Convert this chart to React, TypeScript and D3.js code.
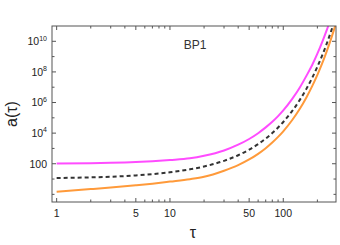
import React from "react";
import * as d3 from "d3";

const tau = [1, 2, 3, 5, 7, 10, 15, 20, 30, 40, 50, 60, 70, 80, 90, 100, 120, 140, 160, 180, 200, 220, 240, 260, 280, 300];
const aMagenta = [104, 108, 115, 130, 147, 175, 226, 330, 733, 1750, 4140, 9900, 2.37e4, 5.5e4, 1.3e5, 3.06e5, 1.73e6, 9.6e6, 5.5e7, 2.83e8, 1.55e9, 8.5e9, 4.65e10, 2.43e11, 1.37e12, 7.3e12];
const aDashed = [11.6, 12.9, 14.2, 17.2, 20.8, 27.5, 43, 66, 155, 360, 835, 1920, 4400, 1.01e4, 2.33e4, 5.35e4, 2.82e5, 1.49e6, 7.8e6, 4.1e7, 2.17e8, 1.14e9, 6.0e9, 3.2e10, 1.67e11, 8.8e11];
const aOrange = [1.48, 2.2, 2.8, 3.9, 5.0, 6.8, 9.8, 14, 35, 81, 190, 443, 1040, 2430, 5670, 1.32e4, 7.2e4, 3.9e5, 2.15e6, 1.17e7, 6.4e7, 3.47e8, 1.9e9, 1.03e10, 5.6e10, 3.1e11];

const xMajorTicks = [1, 5, 10, 50, 100];
const xMinorTicks = [2, 3, 4, 6, 7, 8, 9, 20, 30, 40, 60, 70, 80, 90, 200];
const yMajorExp = [2, 4, 6, 8, 10];
const yMinorExp = [0, 1, 3, 5, 7, 9];

const W = 340, H = 245;
const L = 52, R = 336, T = 26, B = 202;
const FONT = "'Liberation Sans', Arial, sans-serif";

export default function App() {
  const x = d3.scaleLog().domain([0.91, 292]).range([L, R]);
  const y = d3.scaleLog().domain([Math.pow(10, -0.5), 1e11]).range([B, T]);

  const mk = (vals: number[]) =>
    d3.line<number>().x((_, i) => x(tau[i])).y((v) => y(v)).curve(d3.curveMonotoneX)(vals) || "";

  const frame = "#555";
  const txt = "#222";
  const majL = 4, minL = 2.5;

  return (
    <svg width={W} height={H} style={{ position: "fixed", left: 0, top: 0, background: "#fff" }} fontFamily={FONT}>
      <defs>
        <clipPath id="plot">
          <rect x={L} y={T} width={R - L} height={B - T} />
        </clipPath>
      </defs>
      <g clipPath="url(#plot)" fill="none" strokeWidth={2}>
        <path d={mk(aMagenta)} stroke="#ff4cff" />
        <path d={mk(aOrange)} stroke="#ff9a3a" />
        <path d={mk(aDashed)} stroke="#333" strokeDasharray="4,3" />
      </g>
      <rect x={L} y={T} width={R - L} height={B - T} fill="none" stroke={frame} strokeWidth={1} />
      <g stroke={frame} strokeWidth={1}>
        {xMajorTicks.map((t) => (
          <g key={"xM" + t}>
            <line x1={x(t)} x2={x(t)} y1={B} y2={B - majL} />
            <line x1={x(t)} x2={x(t)} y1={T} y2={T + majL} />
          </g>
        ))}
        {xMinorTicks.map((t) => (
          <g key={"xm" + t}>
            <line x1={x(t)} x2={x(t)} y1={B} y2={B - minL} />
            <line x1={x(t)} x2={x(t)} y1={T} y2={T + minL} />
          </g>
        ))}
        {yMajorExp.map((e) => (
          <g key={"yM" + e}>
            <line x1={L} x2={L + majL} y1={y(Math.pow(10, e))} y2={y(Math.pow(10, e))} />
            <line x1={R} x2={R - majL} y1={y(Math.pow(10, e))} y2={y(Math.pow(10, e))} />
          </g>
        ))}
        {yMinorExp.map((e) => (
          <g key={"ym" + e}>
            <line x1={L} x2={L + minL} y1={y(Math.pow(10, e))} y2={y(Math.pow(10, e))} />
            <line x1={R} x2={R - minL} y1={y(Math.pow(10, e))} y2={y(Math.pow(10, e))} />
          </g>
        ))}
      </g>
      <g fill={txt} fontSize={10.5}>
        {xMajorTicks.map((t) => (
          <text key={"xl" + t} x={x(t)} y={216.5} textAnchor="middle">{String(t)}</text>
        ))}
        {yMajorExp.map((e) =>
          e === 2 ? (
            <text key={"yl" + e} x={47} y={y(100) + 3.8} textAnchor="end">100</text>
          ) : (
            <text key={"yl" + e} x={47} y={y(Math.pow(10, e)) + 3.8} textAnchor="end">
              10<tspan fontSize={7} dy={-4.5}>{String(e)}</tspan>
            </text>
          )
        )}
      </g>
      <text x={195} y={49} textAnchor="middle" fontSize={12} fill="#333">BP1</text>
      <text x={193} y={238} textAnchor="middle" fontSize={16} fill={txt}>τ</text>
      <text transform="translate(17,114) rotate(-90)" textAnchor="middle" fontSize={16} fill={txt}>a(τ)</text>
    </svg>
  );
}
